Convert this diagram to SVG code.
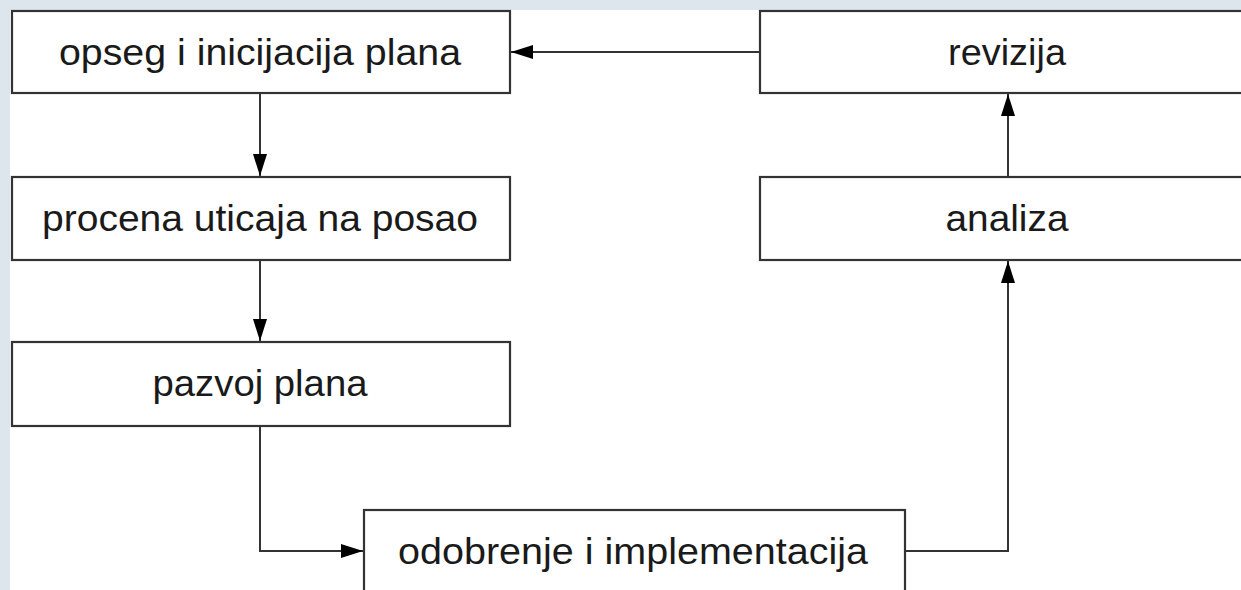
<svg xmlns="http://www.w3.org/2000/svg" width="1241" height="590" viewBox="0 0 1241 590">
<defs>
<style>
.box{fill:#ffffff;stroke:#333333;stroke-width:2.2}
.lbl{font-family:"Liberation Sans",Arial,sans-serif;font-size:37px;fill:#1a1a1a;text-anchor:middle}
.con{fill:none;stroke:#333333;stroke-width:2}
</style>
<marker id="ah" markerWidth="22" markerHeight="14" refX="22" refY="7" orient="auto" markerUnits="userSpaceOnUse">
<path d="M0,0 L22,7 L0,14 Z" fill="#000000"/>
</marker>
</defs>
<rect x="0" y="0" width="1241" height="590" fill="#dde6ec"/>
<rect x="10" y="10" width="1231" height="580" fill="#ffffff"/>
<g id="connectors">
<path class="con" d="M760,52 L511,52" marker-end="url(#ah)"/>
<path class="con" d="M260,93 L260,176" marker-end="url(#ah)"/>
<path class="con" d="M260,260 L260,341" marker-end="url(#ah)"/>
<path class="con" d="M260,426 L260,551 L363,551" marker-end="url(#ah)"/>
<path class="con" d="M905,551 L1008,551 L1008,261" marker-end="url(#ah)"/>
<path class="con" d="M1008,177 L1008,94" marker-end="url(#ah)"/>
</g>
<g id="n1"><rect class="box" x="12" y="11" width="498" height="82"/><text class="lbl" x="260" y="65" textLength="402" lengthAdjust="spacingAndGlyphs">opseg i inicijacija plana</text></g>
<g id="n2"><rect class="box" x="12" y="177" width="498" height="83"/><text class="lbl" x="260" y="231" textLength="436" lengthAdjust="spacingAndGlyphs">procena uticaja na posao</text></g>
<g id="n3"><rect class="box" x="12" y="342" width="498" height="84"/><text class="lbl" x="260" y="396" textLength="215" lengthAdjust="spacingAndGlyphs">pazvoj plana</text></g>
<g id="n4"><rect class="box" x="364" y="510" width="541" height="100"/><text class="lbl" x="633" y="564" textLength="470" lengthAdjust="spacingAndGlyphs">odobrenje i implementacija</text></g>
<g id="n5"><rect class="box" x="760" y="11" width="500" height="82"/><text class="lbl" x="1007" y="65" textLength="118" lengthAdjust="spacingAndGlyphs">revizija</text></g>
<g id="n6"><rect class="box" x="760" y="177" width="500" height="83"/><text class="lbl" x="1007" y="231" textLength="123" lengthAdjust="spacingAndGlyphs">analiza</text></g>
</svg>
